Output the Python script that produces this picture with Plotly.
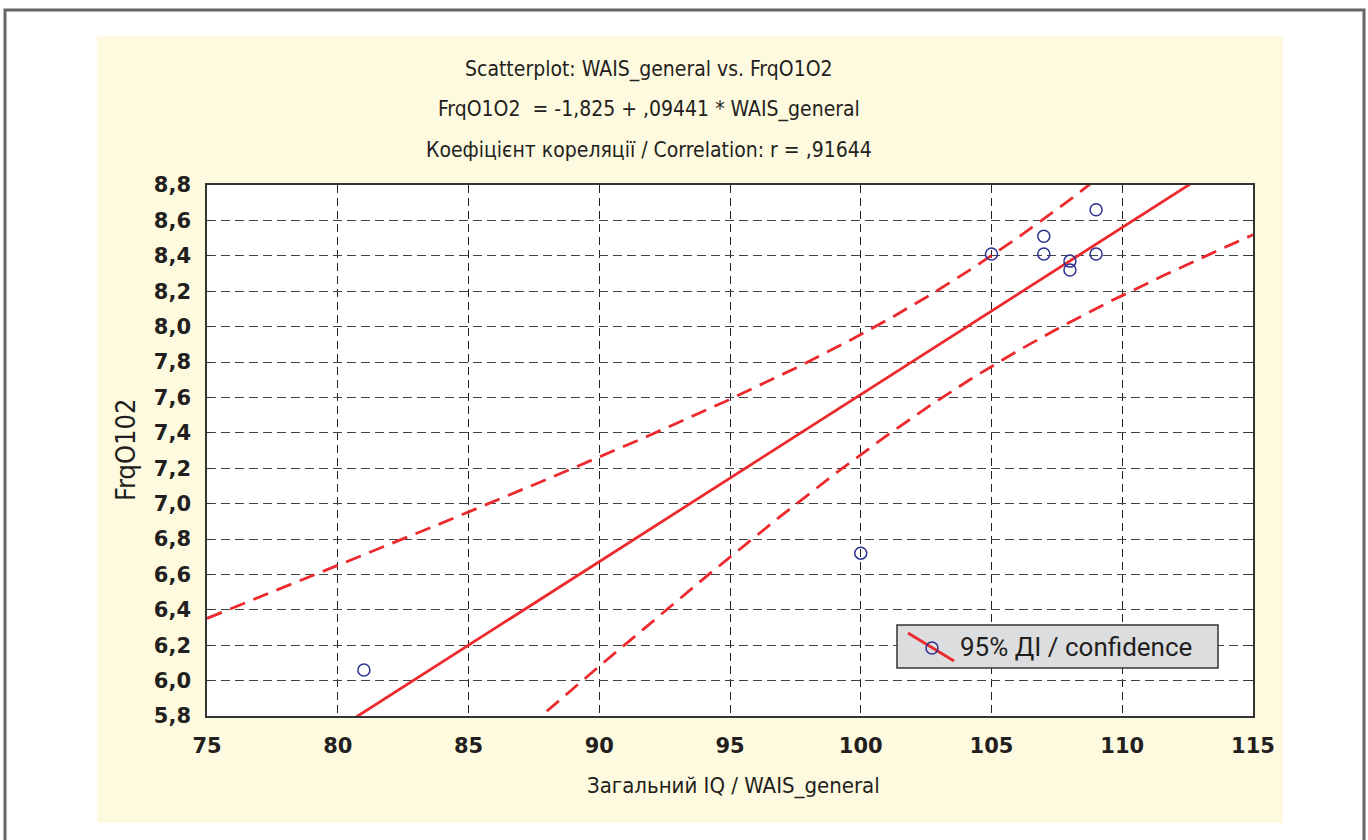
import numpy as np
import plotly.graph_objects as go

# ---- data ----
wais_general = [81, 100, 105, 107, 107, 108, 108, 109, 109]
frq_o1o2 = [6.06, 6.72, 8.41, 8.51, 8.41, 8.37, 8.32, 8.66, 8.41]
intercept = -1.825
slope = 0.09441
t_crit_975_df7 = 2.3646
x_ticks = [75, 80, 85, 90, 95, 100, 105, 110, 115]
y_ticks = [5.8, 6.0, 6.2, 6.4, 6.6, 6.8, 7.0, 7.2, 7.4, 7.6, 7.8, 8.0, 8.2, 8.4, 8.6, 8.8]
title_lines = [
    "Scatterplot: WAIS_general vs. FrqO1O2",
    "FrqO1O2  = -1,825 + ,09441 * WAIS_general",
    "Коефіцієнт кореляції / Correlation: r = ,91644",
]
x_title = "Загальний IQ / WAIS_general"
y_title = "FrqO102"
legend_label = "95% ДІ / confidence"

# ---- regression line + 95% confidence band derived from the data ----
x = np.array(wais_general, dtype=float)
y = np.array(frq_o1o2, dtype=float)
n = len(x)
res = y - (intercept + slope * x)
s = np.sqrt(np.sum(res ** 2) / (n - 2))
xbar = x.mean()
sxx = np.sum((x - xbar) ** 2)
xs = np.linspace(x_ticks[0], x_ticks[-1], 401)
fit = intercept + slope * xs
half = t_crit_975_df7 * s * np.sqrt(1.0 / n + (xs - xbar) ** 2 / sxx)

RED = "#ec2a2e"
BLUE = "#2e3192"
TXT = "#231f20"
NARROW = "Liberation Sans Narrow, DejaVu Sans Condensed, Arial Narrow, sans-serif"

fig = go.Figure()
fig.add_trace(go.Scatter(x=xs, y=fit, mode="lines", line=dict(color=RED, width=2.8),
                         showlegend=False, hoverinfo="skip"))
fig.add_trace(go.Scatter(x=xs, y=fit + half, mode="lines",
                         line=dict(color=RED, width=2.8, dash="16px,9px"),
                         showlegend=False, hoverinfo="skip"))
fig.add_trace(go.Scatter(x=xs, y=fit - half, mode="lines",
                         line=dict(color=RED, width=2.8, dash="16px,9px"),
                         showlegend=False, hoverinfo="skip"))
fig.add_trace(go.Scatter(x=wais_general, y=frq_o1o2, mode="markers",
                         marker=dict(symbol="circle-open", size=12, color=BLUE,
                                     line=dict(width=1.5, color=BLUE)),
                         showlegend=False, cliponaxis=False))

# plot-area geometry in page pixels
L, R, T, B = 207, 1253, 185, 716
W, H = R - L, B - T
FIG_W, FIG_H = 1368, 840


def px(v):
    return (v - L) / W


def py(v):
    return (B - v) / H


shapes = [
    # outer frame
    dict(type="rect", xref="paper", yref="paper", x0=px(5), x1=px(1364), y0=py(852), y1=py(10),
         line=dict(color="#666666", width=3), fillcolor="white", layer="below"),
    # yellow panel
    dict(type="rect", xref="paper", yref="paper", x0=px(97), x1=px(1283), y0=py(823), y1=py(36),
         line=dict(width=0), fillcolor="#fefadf", layer="below"),
    # white plot area
    dict(type="rect", xref="paper", yref="paper", x0=0, x1=1, y0=0, y1=1,
         line=dict(width=0), fillcolor="white", layer="below"),
    # legend box
    dict(type="rect", xref="paper", yref="paper", x0=px(897), x1=px(1218), y0=py(668), y1=py(625),
         line=dict(color="#333333", width=1.5), fillcolor="#dcdddf", layer="above"),
    dict(type="line", xref="paper", yref="paper", x0=px(908), y0=py(633), x1=px(954), y1=py(661),
         line=dict(color=RED, width=2.8), layer="above"),
    dict(type="circle", xref="paper", yref="paper", x0=px(926), x1=px(938), y0=py(654), y1=py(642),
         line=dict(color=BLUE, width=1.5), fillcolor="rgba(0,0,0,0)", layer="above"),
]

annotations = []
for line_txt, yy in zip(title_lines, [70, 109, 150]):
    annotations.append(dict(text=line_txt, xref="paper", yref="paper", x=px(649), y=py(yy),
                            xanchor="center", yanchor="middle", showarrow=False,
                            font=dict(family=NARROW, size=21, color=TXT)))
annotations.append(dict(text=x_title, xref="paper", yref="paper", x=px(733), y=py(786),
                        xanchor="center", yanchor="middle", showarrow=False,
                        font=dict(family=NARROW, size=22, color=TXT)))
annotations.append(dict(text=y_title, xref="paper", yref="paper", x=px(125), y=py(450),
                        xanchor="center", yanchor="middle", showarrow=False, textangle=-90,
                        font=dict(family=NARROW, size=27, color=TXT)))
annotations.append(dict(text=legend_label, xref="paper", yref="paper", x=px(958), y=py(647),
                        xanchor="left", yanchor="middle", showarrow=False,
                        font=dict(family="Roboto, Noto Sans, sans-serif", size=26, color=TXT)))

tickfont = dict(family="DejaVu Sans", size=21, color=TXT, weight="bold")

fig.update_layout(
    width=FIG_W, height=FIG_H,
    margin=dict(l=L, r=FIG_W - R, t=T, b=FIG_H - B, pad=0),
    paper_bgcolor="white", plot_bgcolor="rgba(0,0,0,0)",
    separators=", ",
    shapes=shapes, annotations=annotations,
    showlegend=False,
    xaxis=dict(range=[x_ticks[0], x_ticks[-1]], tickvals=x_ticks, ticktext=[str(v) for v in x_ticks],
               showgrid=True, gridcolor="#222222", gridwidth=1, griddash="8px,5px",
               showline=True, linecolor="#333333", linewidth=1.5, mirror=True,
               ticks="", zeroline=False, tickfont=tickfont, ticklabelstandoff=10),
    yaxis=dict(range=[y_ticks[0], y_ticks[-1]], tickvals=y_ticks, tickformat=".1f",
               showgrid=True, gridcolor="#444444", gridwidth=1, griddash="9px,5px",
               showline=True, linecolor="#333333", linewidth=1.5, mirror="ticks",
               ticks="inside", ticklen=5, tickcolor="#333333",
               zeroline=False, tickfont=tickfont, ticklabelstandoff=10),
)

fig.write_html(
    "out.html",
    config={"displayModeBar": False},
    post_script="document.body.style.margin='0';document.body.style.overflow='hidden';",
)
